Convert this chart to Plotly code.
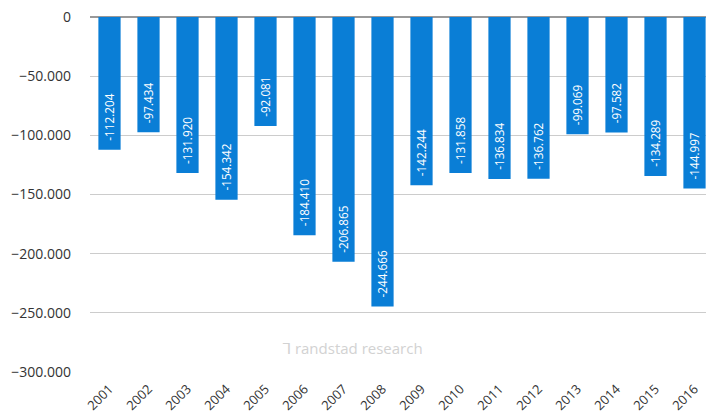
import plotly.graph_objects as go

years = ["2001", "2002", "2003", "2004", "2005", "2006", "2007", "2008",
         "2009", "2010", "2011", "2012", "2013", "2014", "2015", "2016"]
values = [-112204, -97434, -131920, -154342, -92081, -184410, -206865, -244666,
          -142244, -131858, -136834, -136762, -99069, -97582, -134289, -144997]
y_ticks = [0, -50000, -100000, -150000, -200000, -250000, -300000]

fig = go.Figure(go.Bar(
    x=years, y=values,
    marker=dict(color="#0a7ed6", line=dict(width=0)),
    texttemplate="\u00a0\u00a0%{y:,}",
    textposition="inside",
    insidetextanchor="end",
    textangle=-90,
    textfont=dict(color="white", size=13, family="Open Sans"),
))

# page body has an 8px margin, so the figure is drawn 8px smaller
fig.update_layout(
    width=706, height=412,
    margin=dict(l=82, r=0, t=9, b=48, autoexpand=False),
    paper_bgcolor="white", plot_bgcolor="white",
    separators=",.",
    bargap=0.43,
    showlegend=False,
    font=dict(family="Open Sans", color="#333333"),
    xaxis=dict(tickangle=-45, tickfont=dict(size=13, color="#333333"),
               showgrid=False, showline=False, ticks="", automargin=False,
               ticklabelstandoff=6, ticklabeloverflow="allow"),
    yaxis=dict(range=[-300000, 0], tickvals=y_ticks, tickformat=",d",
               tickfont=dict(size=14, color="#333333"),
               showgrid=True, gridcolor="#cccccc", gridwidth=1,
               zeroline=True, zerolinecolor="#999999", zerolinewidth=2,
               ticklabelstandoff=18, automargin=False,
               ticklabeloverflow="allow"),
    annotations=[dict(text="ᒣ randstad research", x=0.42, y=0.068,
                      xref="paper", yref="paper", showarrow=False,
                      font=dict(size=15, color="#d2d2d2", family="Open Sans"),
                      yanchor="middle", xanchor="center")],
)

fig.write_html("out.html")
